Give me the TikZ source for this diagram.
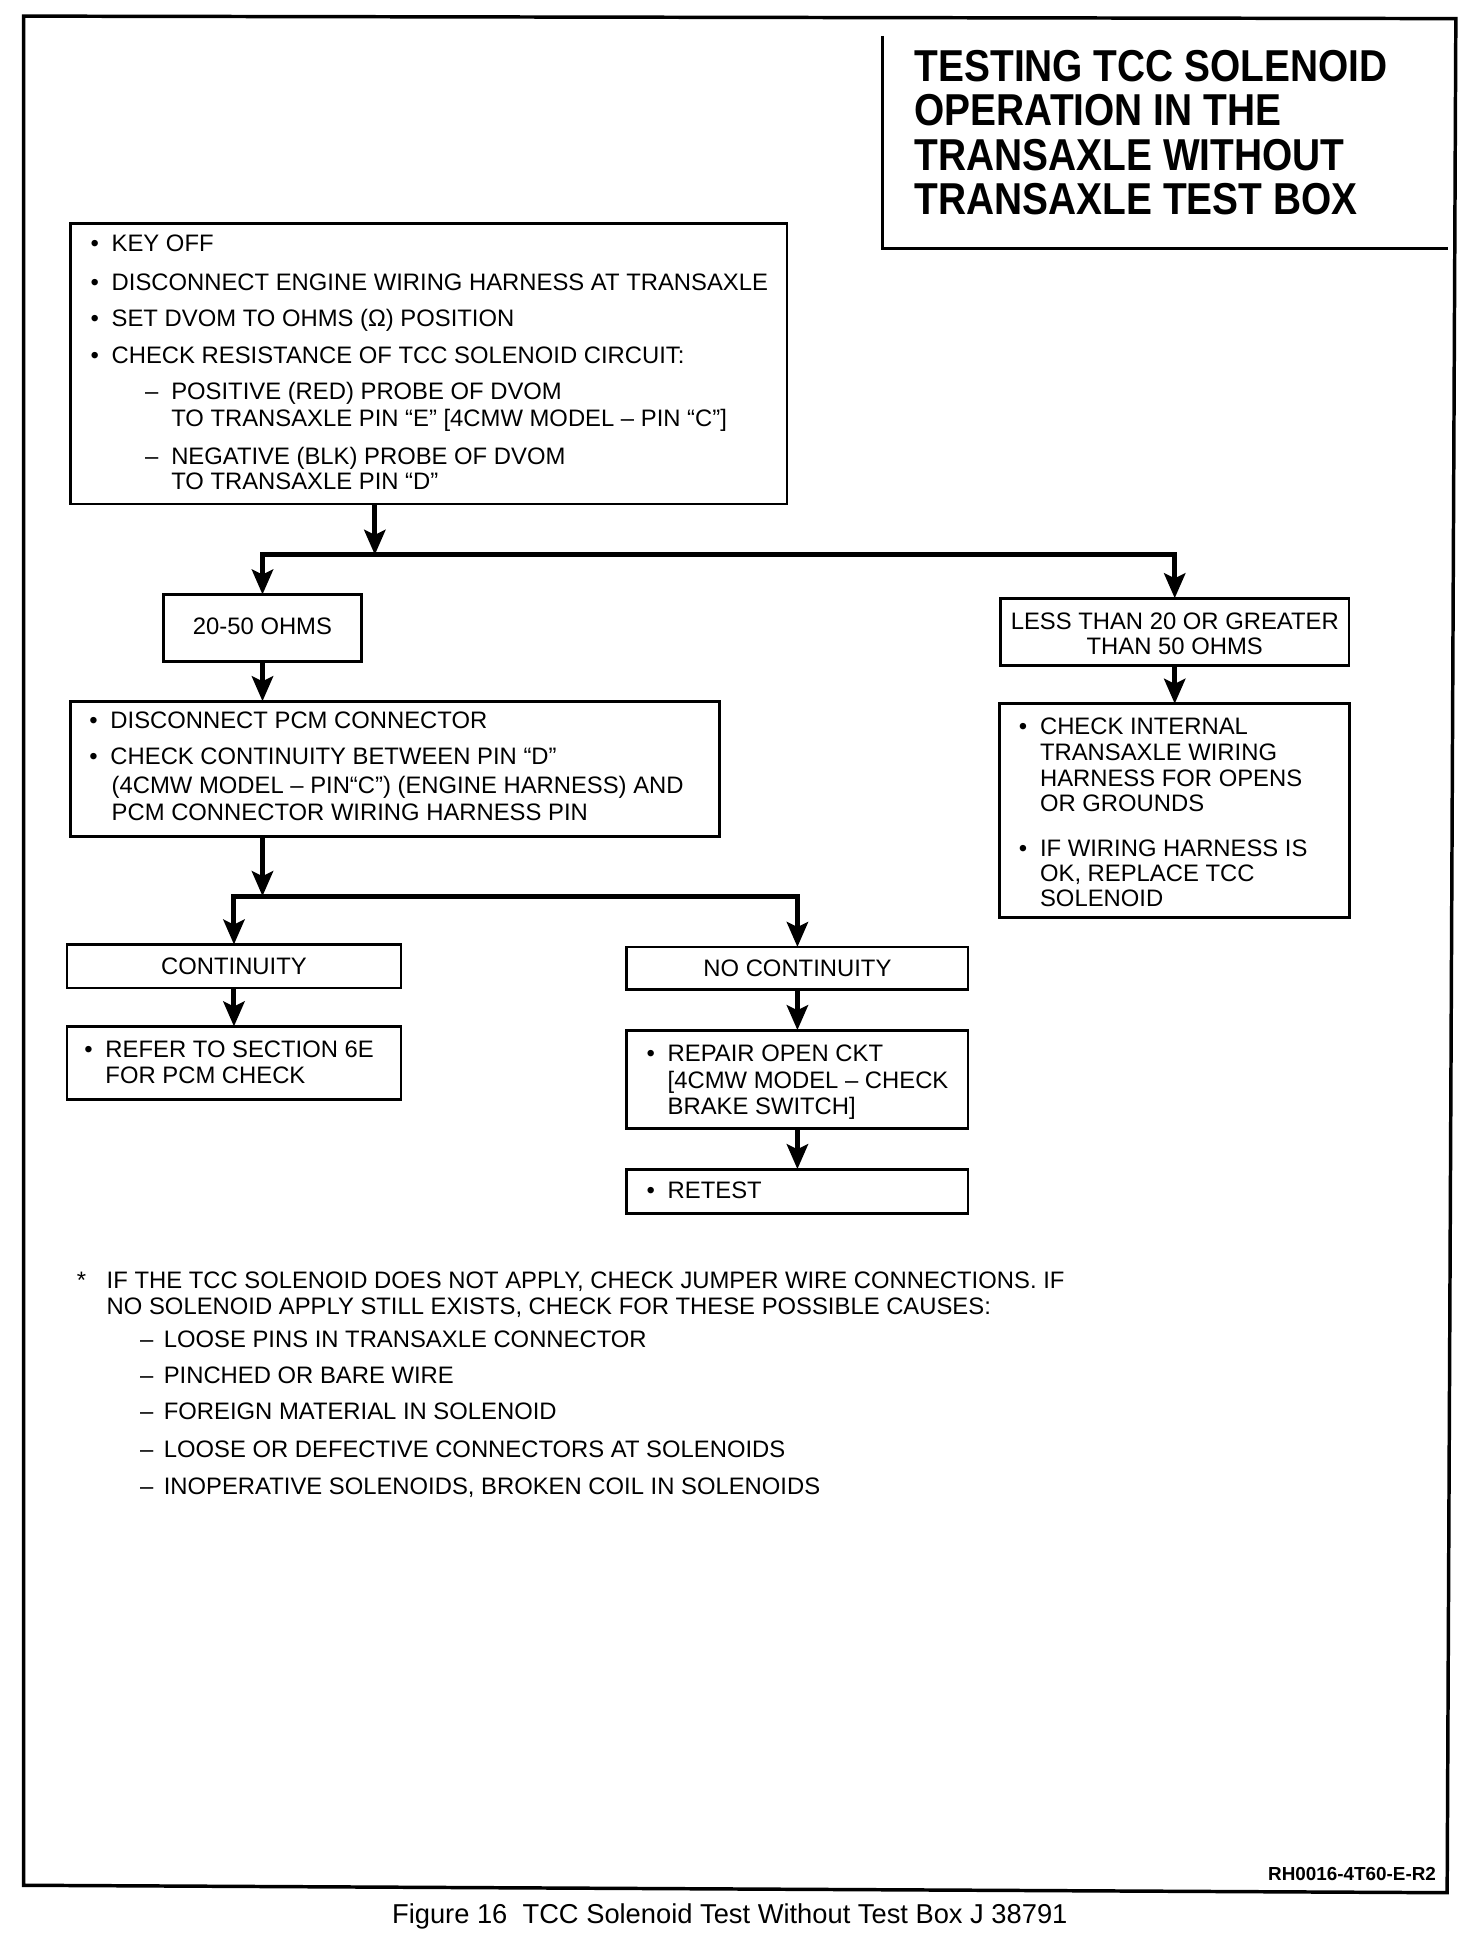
\documentclass[tikz,border=0pt]{standalone}
\usepackage{fontspec}
\setmainfont{Liberation Sans}
\newfontfamily\titlefont[FakeStretch=0.87]{Liberation Sans Bold}
\usetikzlibrary{arrows.meta}
\newcommand{\bul}{\makebox[8.5pt][l]{•}}
\newcommand{\dsh}{\makebox[10.5pt][l]{–}}
\newcommand{\fdsh}{\makebox[9.5pt][l]{–}}
\begin{document}
\begin{tikzpicture}[x=0.5pt,y=-0.5pt,
  every node/.style={inner sep=0pt, outer sep=0pt},
  txt/.style={anchor=base west, font=\fontsize{9.6}{11.5}\selectfont},
  ctxt/.style={anchor=base, font=\fontsize{9.6}{11.5}\selectfont},
  titlet/.style={anchor=base west, font=\titlefont\fontsize{18}{21}\selectfont},
  boxn/.style={draw, line width=1.1pt},
  conn/.style={line width=2pt, line cap=rect},
  arr/.style={line width=2pt, -{Stealth[length=10pt,width=8.5pt,inset=2pt]}},
  framel/.style={line width=1.4pt, line join=miter},
  tline/.style={line width=1.2pt}
]
\fill[white] (0,0) rectangle (1186,1561.5);
\useasboundingbox (0,0) rectangle (1186,1561.5);

% outer frame
\draw[framel] (19,13) -- (1173,15) -- (1166,1525) -- (19,1519) -- cycle;

% title block
\draw[tline] (711,29) -- (711,200) -- (1167,200);
\node[titlet] (t1) at (737,66) {TESTING TCC SOLENOID};
\node[titlet] (t2) at (737,101.5) {OPERATION IN THE};
\node[titlet] (t3) at (737,137) {TRANSAXLE WITHOUT};
\node[titlet] (t4) at (737,172.5) {TRANSAXLE TEST BOX};

% boxes
\node[boxn, minimum width=288.5pt, minimum height=113pt] (box1) at (345.5,293) {};
\node[boxn, minimum width=79.5pt, minimum height=27pt] (b2050) at (211.5,506) {};
\node[boxn, minimum width=261.5pt, minimum height=54.5pt] (box3) at (318.5,619.5) {};
\node[boxn, minimum width=140.5pt, minimum height=27pt] (less) at (946.5,509) {};
\node[boxn, minimum width=141pt, minimum height=86pt] (chk) at (946.5,653) {};
\node[boxn, minimum width=134.5pt, minimum height=17.5pt] (cont) at (188.5,778.5) {};
\node[boxn, minimum width=134.5pt, minimum height=29.5pt] (refer) at (188.5,856.5) {};
\node[boxn, minimum width=137.5pt, minimum height=17pt] (nocont) at (642.5,780) {};
\node[boxn, minimum width=137.5pt, minimum height=39.5pt] (repair) at (642.5,869.5) {};
\node[boxn, minimum width=137.5pt, minimum height=18pt] (retest) at (642.5,960) {};

% box 1 text
\node[txt] (a1) at (73,203) {\bul KEY OFF};
\node[txt] (a2) at (73,234) {\bul DISCONNECT ENGINE WIRING HARNESS AT TRANSAXLE};
\node[txt] (a3) at (73,263) {\bul SET DVOM TO OHMS (Ω) POSITION};
\node[txt] (a4) at (73,293) {\bul CHECK RESISTANCE OF TCC SOLENOID CIRCUIT:};
\node[txt] (a5) at (117,322) {\dsh POSITIVE (RED) PROBE OF DVOM};
\node[txt] (a6) at (138,344) {TO TRANSAXLE PIN “E” [4CMW MODEL – PIN “C”]};
\node[txt] (a7) at (117,374) {\dsh NEGATIVE (BLK) PROBE OF DVOM};
\node[txt] (a8) at (138,394) {TO TRANSAXLE PIN “D”};

% 20-50
\node[ctxt] (b1) at (211.5,511) {20-50 OHMS};

% box 3 text
\node[txt] (c1) at (72,587) {\bul DISCONNECT PCM CONNECTOR};
\node[txt] (c2) at (72,616) {\bul CHECK CONTINUITY BETWEEN PIN “D”};
\node[txt] (c3) at (90,639) {(4CMW MODEL – PIN“C”) (ENGINE HARNESS) AND};
\node[txt] (c4) at (90,661) {PCM CONNECTOR WIRING HARNESS PIN};

% less than
\node[ctxt] (d1) at (946.5,507) {LESS THAN 20 OR GREATER};
\node[ctxt] (d2) at (946.5,527) {THAN 50 OHMS};

% check internal
\node[txt] (e1) at (821,592) {\bul CHECK INTERNAL};
\node[txt] (e2) at (838,613) {TRANSAXLE WIRING};
\node[txt] (e3) at (838,634) {HARNESS FOR OPENS};
\node[txt] (e4) at (838,654) {OR GROUNDS};
\node[txt] (e5) at (821,690) {\bul IF WIRING HARNESS IS};
\node[txt] (e6) at (838,710) {OK, REPLACE TCC};
\node[txt] (e7) at (838,730) {SOLENOID};

% continuity branch
\node[ctxt] (f1) at (188.5,785) {CONTINUITY};
\node[txt] (g1) at (68,852) {\bul REFER TO SECTION 6E};
\node[txt] (g2) at (85,873) {FOR PCM CHECK};

% no continuity branch
\node[ctxt] (h1) at (642.5,787) {NO CONTINUITY};
\node[txt] (i1) at (521,855) {\bul REPAIR OPEN CKT};
\node[txt] (i2) at (538,877) {[4CMW MODEL – CHECK};
\node[txt] (i3) at (538,898) {BRAKE SWITCH]};
\node[txt] (k1) at (521,966) {\bul RETEST};

% connectors
\coordinate (j1) at (302,447);
\coordinate (j1l) at (211.5,447);
\coordinate (j1r) at (946.5,447);
\draw[conn] (j1l) -- (j1r);
\draw[arr] (box1.south -| j1) -- (j1);
\draw[arr] (j1l) -- (b2050.north);
\draw[arr] (j1r) -- (less.north);
\draw[arr] (b2050.south) -- (b2050.south |- box3.north);
\draw[arr] (less.south) -- (less.south |- chk.north);

\coordinate (j2) at (211.5,722);
\coordinate (j2l) at (188.5,722);
\coordinate (j2r) at (642.5,722);
\draw[conn] (j2l) -- (j2r);
\draw[arr] (box3.south -| j2) -- (j2);
\draw[arr] (j2l) -- (cont.north);
\draw[arr] (j2r) -- (nocont.north);
\draw[arr] (cont.south) -- (refer.north);
\draw[arr] (nocont.south) -- (repair.north);
\draw[arr] (repair.south) -- (retest.north);

% footnote
\node[txt] (n0) at (62,1038) {*};
\node[txt] (n1) at (86,1038) {IF THE TCC SOLENOID DOES NOT APPLY, CHECK JUMPER WIRE CONNECTIONS. IF};
\node[txt] (n2) at (86,1059) {NO SOLENOID APPLY STILL EXISTS, CHECK FOR THESE POSSIBLE CAUSES:};
\node[txt] (n3) at (113,1086) {\fdsh LOOSE PINS IN TRANSAXLE CONNECTOR};
\node[txt] (n4) at (113,1115) {\fdsh PINCHED OR BARE WIRE};
\node[txt] (n5) at (113,1144) {\fdsh FOREIGN MATERIAL IN SOLENOID};
\node[txt] (n6) at (113,1174) {\fdsh LOOSE OR DEFECTIVE CONNECTORS AT SOLENOIDS};
\node[txt] (n7) at (113,1204) {\fdsh INOPERATIVE SOLENOIDS, BROKEN COIL IN SOLENOIDS};

% reference code and caption
\node[anchor=base east, font=\bfseries\fontsize{7.6}{9}\selectfont] (rh) at (1157,1515) {RH0016-4T60-E-R2};
\node[anchor=base, font=\fontsize{11}{13}\selectfont] (cap) at (588,1550) {Figure 16\ \ TCC Solenoid Test Without Test Box J 38791};
\end{tikzpicture}
\end{document}
